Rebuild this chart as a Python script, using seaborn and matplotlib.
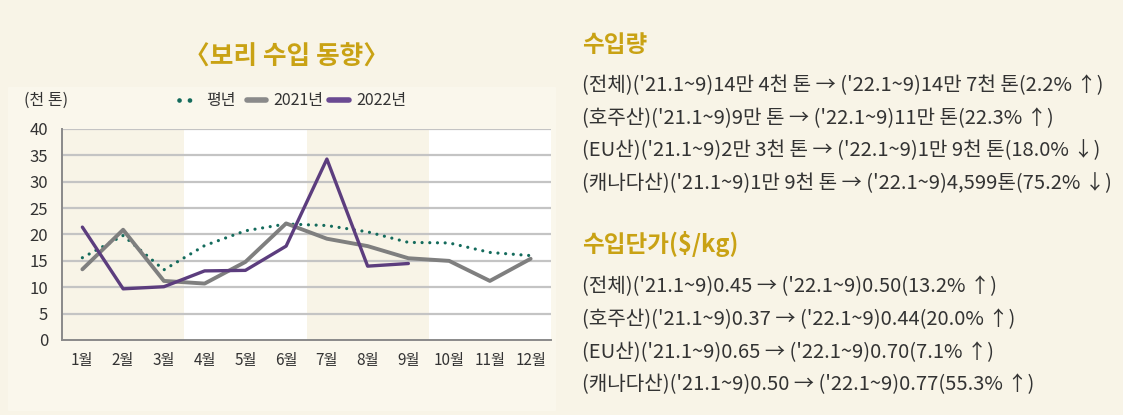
import pandas as pd
import matplotlib.pyplot as plt
import matplotlib.patches as mpatches
import seaborn as sns

months = ["1월", "2월", "3월", "4월", "5월", "6월", "7월", "8월", "9월", "10월", "11월", "12월"]
normal_year = [15.6, 19.8, 13.3, 17.9, 20.7, 22.0, 21.7, 20.5, 18.5, 18.4, 16.6, 16.0]
y2021 = [13.4, 20.9, 11.2, 10.7, 14.8, 22.1, 19.2, 17.8, 15.5, 15.0, 11.2, 15.4]
y2022 = [21.4, 9.7, 10.1, 13.1, 13.2, 17.8, 34.3, 14.0, 14.5]

volume_lines = [
    "(전체)('21.1~9)14만 4천 톤 → ('22.1~9)14만 7천 톤(2.2% ↑)",
    "(호주산)('21.1~9)9만 톤 → ('22.1~9)11만 톤(22.3% ↑)",
    "(EU산)('21.1~9)2만 3천 톤 → ('22.1~9)1만 9천 톤(18.0% ↓)",
    "(캐나다산)('21.1~9)1만 9천 톤 → ('22.1~9)4,599톤(75.2% ↓)",
]
price_lines = [
    "(전체)('21.1~9)0.45 → ('22.1~9)0.50(13.2% ↑)",
    "(호주산)('21.1~9)0.37 → ('22.1~9)0.44(20.0% ↑)",
    "(EU산)('21.1~9)0.65 → ('22.1~9)0.70(7.1% ↑)",
    "(캐나다산)('21.1~9)0.50 → ('22.1~9)0.77(55.3% ↑)",
]

sns.set_style("white")
plt.rcParams["font.family"] = ["Noto Sans CJK KR", "DejaVu Sans"]

BG = "#f8f4e7"
PANEL = "#faf7ec"
GOLD = "#c9a214"
TEXT = "#333333"

fig = plt.figure(figsize=(11.23, 4.15), dpi=100, facecolor=BG)
W, H = 1123, 415

# lighter panel behind the chart
fig.patches.append(mpatches.Rectangle((8 / W, 1 - 410 / H), 547 / W, 323 / H,
                                      transform=fig.transFigure, color=PANEL, zorder=-5))

ax = fig.add_axes([62 / W, 1 - 340 / H, 489 / W, 211 / H])
ax.set_zorder(2)
ax.set_facecolor("white")
x = list(range(12))

ax.axvspan(-0.5, 2.5, color=BG, zorder=0, lw=0)
ax.axvspan(5.5, 8.5, color=BG, zorder=0, lw=0)
for v in range(5, 45, 5):
    ax.axhline(v, color="#c4c4c4", lw=1.6, zorder=1)

sns.lineplot(x=x, y=normal_year, ax=ax, color="#146b5c", lw=2.3,
             linestyle=(0, (0.01, 2.4)), dash_capstyle="round", zorder=3)
sns.lineplot(x=x, y=y2021, ax=ax, color="#7f7f7f", lw=2.8, zorder=4)
sns.lineplot(x=x[:len(y2022)], y=y2022, ax=ax, color="#5c3d7e", lw=2.4, zorder=5)

ax.set_xlim(-0.5, 11.5)
ax.set_ylim(0, 40)
ax.set_yticks(range(0, 45, 5))
ax.set_xticks(x)
ax.set_xticklabels(months)
ax.set_xticks([i + 0.5 for i in range(-1, 12)], minor=True)
ax.tick_params(axis="x", which="major", length=0, pad=9, labelsize=11, labelcolor=TEXT)
ax.tick_params(axis="x", which="minor", length=7, width=1.3, color="#8a8a8a", direction="out")
ax.tick_params(axis="y", length=6, width=1.3, color="#8a8a8a", pad=4, labelsize=12, labelcolor=TEXT)
for s in ["top", "right"]:
    ax.spines[s].set_visible(False)
for s in ["left", "bottom"]:
    ax.spines[s].set_color("#8a8a8a")
    ax.spines[s].set_linewidth(1.4)
ax.set_xlabel("")
ax.set_ylabel("")

fig.text(287 / W, 1 - 57 / H, "〈보리 수입 동향〉", ha="center", va="center",
         fontsize=18.5, fontweight="bold", color=GOLD)
fig.text(24 / W, 1 - 100 / H, "(천 톤)", ha="left", va="center", fontsize=11.5, color=TEXT)

# legend
ly = 1 - 100 / H
fig.lines.append(plt.Line2D([179 / W, 199 / W], [ly, ly], transform=fig.transFigure,
                            color="#146b5c", lw=3.4, linestyle=(0, (0.01, 2.2)),
                            dash_capstyle="round"))
fig.text(206 / W, ly, "평년", va="center", fontsize=11.5, color=TEXT)
fig.lines.append(plt.Line2D([247 / W, 266 / W], [ly, ly], transform=fig.transFigure,
                            color="#8a8a8a", lw=4, solid_capstyle="round"))
fig.text(273 / W, ly, "2021년", va="center", fontsize=11.5, color=TEXT)
fig.lines.append(plt.Line2D([329 / W, 349 / W], [ly, ly], transform=fig.transFigure,
                            color="#6a4a92", lw=4, solid_capstyle="round"))
fig.text(356 / W, ly, "2022년", va="center", fontsize=11.5, color=TEXT)

# right-hand text
fig.text(582 / W, 1 - 45 / H, "수입량", ha="left", va="center",
         fontsize=17, fontweight="bold", color=GOLD)
for i, line in enumerate(volume_lines):
    fig.text(582 / W, 1 - (86 + i * 32.5) / H, line, ha="left", va="center",
             fontsize=14.5, color=TEXT)
fig.text(582 / W, 1 - 244 / H, "수입단가($/kg)", ha="left", va="center",
         fontsize=17, fontweight="bold", color=GOLD)
for i, line in enumerate(price_lines):
    fig.text(582 / W, 1 - (287 + i * 32.7) / H, line, ha="left", va="center",
             fontsize=14.5, color=TEXT)

fig.savefig("out.png", dpi=100, facecolor=BG)
